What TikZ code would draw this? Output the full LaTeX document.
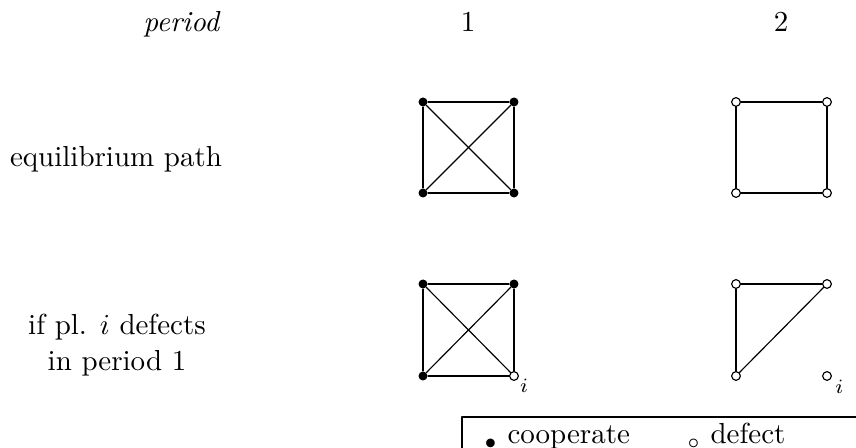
\documentclass[tikz,border=0pt]{standalone}
\usepackage{amssymb,amsmath}
\usepackage{tikz}
\usetikzlibrary{positioning}
\tikzset{coop/.style={circle,fill=black,inner sep=0pt,minimum size=3.1pt},
dfct/.style={circle,draw=black,fill=white,inner sep=0pt,minimum size=3pt}}
\begin{document}
\begin{tikzpicture}[line cap=round,line join=round,x=0.345pt,y=-0.345pt]
\useasboundingbox (0,0) rectangle (856,448);
\clip (0,0) rectangle (856,448);
% header
\node[anchor=base] (per) at (182,32) {\emph{period}};
\node[anchor=base] (t1) at (468,32) {$1$};
\node[anchor=base] (t2) at (781,32) {$2$};
% row labels
\node[anchor=base] (eq) at (116,167) {equilibrium path};
\node[anchor=base] (dev1) at (117,335) {if pl. $i$ defects};
\node[anchor=base] (dev2) at (117,371) {in period 1};
% equilibrium path
\node[coop] (a1) at (423,102) {};
\node[coop] (b1) at (514,102) {};
\node[coop] (c1) at (423,193) {};
\node[coop] (d1) at (514,193) {};
\node[dfct] (a2) at (736,102) {};
\node[dfct] (b2) at (827,102) {};
\node[dfct] (c2) at (736,193) {};
\node[dfct] (d2) at (827,193) {};
\foreach \u/\v in {a1/b1,a1/c1,b1/d1,c1/d1,a1/d1,b1/c1,a2/b2,a2/c2,b2/d2,c2/d2}
\draw (\u) -- (\v);
% deviation of player i
\node[coop] (e1) at (423,284) {};
\node[coop] (f1) at (514,284) {};
\node[coop] (g1) at (423,376) {};
\node[dfct,label={[inner sep=0pt,label distance=0.3pt,font=\scriptsize]-25:$i$}] (h1) at (514,376) {};
\node[dfct] (e2) at (736,284) {};
\node[dfct] (f2) at (827,284) {};
\node[dfct] (g2) at (736,376) {};
\node[dfct,label={[inner sep=0pt,label distance=1.2pt,font=\scriptsize]-25:$i$}] (h2) at (827,376) {};
\foreach \u/\v in {e1/f1,e1/g1,f1/h1,g1/h1,e1/h1,f1/g1,e2/f2,e2/g2,g2/f2}
\draw (\u) -- (\v);
% legend
\draw (462,417) rectangle (900,480);
\node[anchor=base west,inner sep=0pt] (lc) at (484,444) {$_\bullet$ cooperate};
\node[anchor=base west,inner sep=0pt] (ld) at (687,444) {$_\circ$ defect};
\end{tikzpicture}
\end{document}
